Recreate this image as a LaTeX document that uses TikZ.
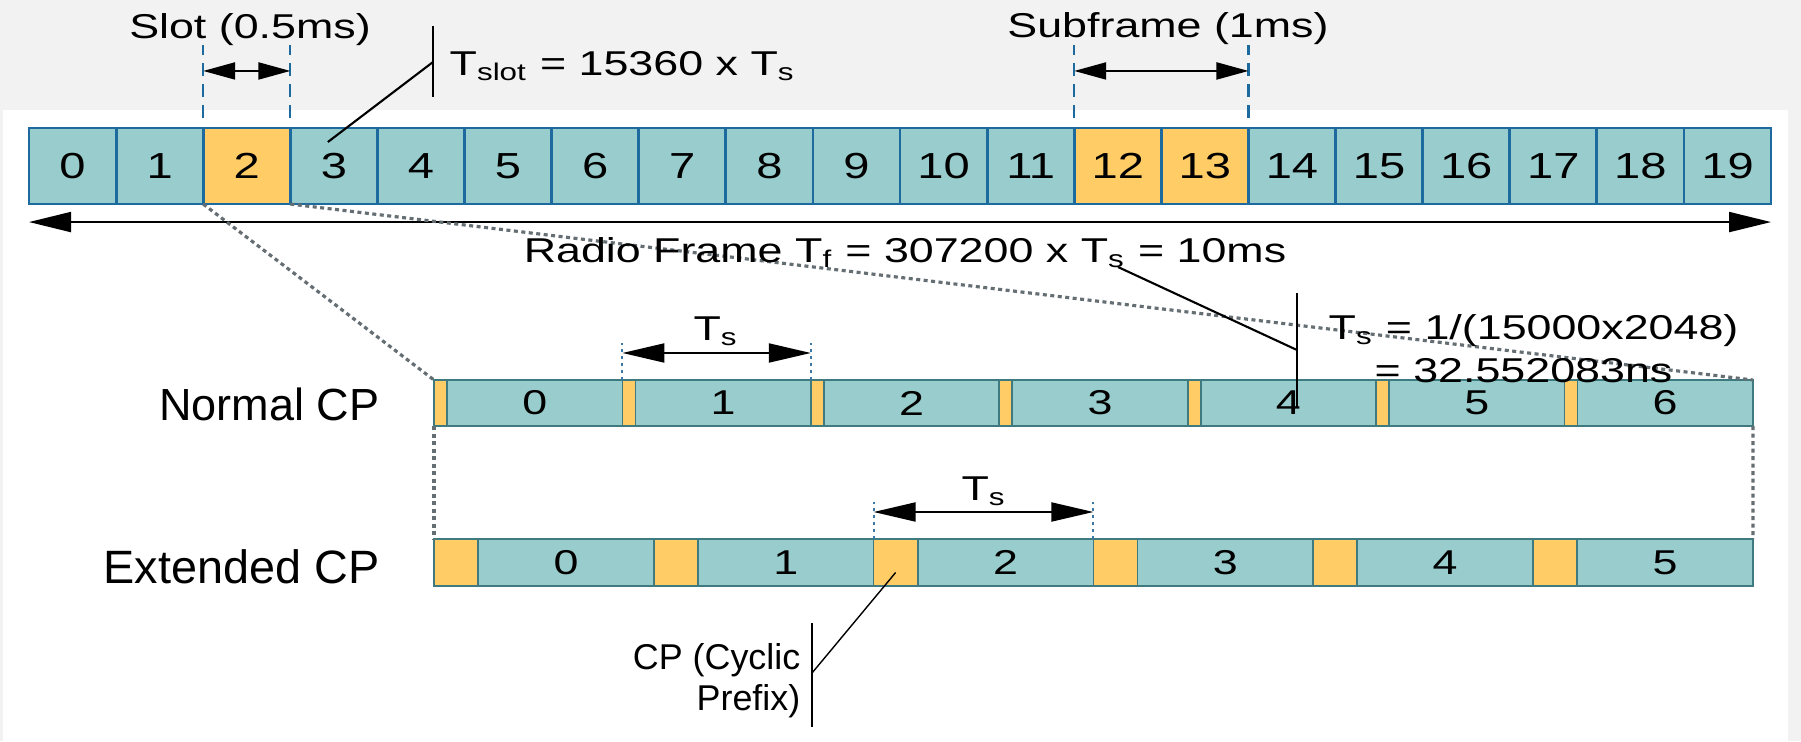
\documentclass[tikz,border=0pt]{standalone}
\usepackage{fontspec}
\setmainfont{Liberation Sans}[FakeStretch=1.3]
\newfontfamily\plainsans{Liberation Sans}
\usepackage{tikz}
\usetikzlibrary{arrows.meta,positioning}
\definecolor{frameblue}{RGB}{28,106,158}
\definecolor{slotteal}{RGB}{153,204,204}
\definecolor{cporange}{RGB}{255,204,102}
\definecolor{symedge}{RGB}{62,122,128}
\definecolor{bandgray}{RGB}{242,242,242}
\definecolor{zoomgray}{RGB}{100,110,115}
\definecolor{tickblue}{RGB}{60,120,165}

\begin{document}
\begin{tikzpicture}[x=0.01cm, y=-0.01cm, font=\fontsize{9.8}{11.8}\selectfont]
    \tikzstyle{slotbox} = [rectangle, draw=frameblue, line width=0.8pt, fill=slotteal, minimum width=0.871cm, minimum height=0.76cm, inner sep=0pt, outer sep=0pt, anchor=west, font=\fontsize{10.3}{12}\selectfont]
    \tikzstyle{ncp} = [rectangle, draw=symedge, line width=0.5pt, fill=cporange, minimum width=0.13cm, minimum height=0.46cm, inner sep=0pt, outer sep=0pt]
    \tikzstyle{nsym} = [ncp, fill=slotteal, minimum width=1.754cm]
    \tikzstyle{ecp} = [ncp, minimum width=0.44cm, minimum height=0.47cm]
    \tikzstyle{esym} = [ecp, fill=slotteal, minimum width=1.758cm]
    \tikzstyle{guide} = [draw=frameblue, line width=0.6pt, dash pattern=on 0.13cm off 0.08cm]
    \tikzstyle{tick} = [draw=tickblue, line width=0.6pt, dash pattern=on 0.03cm off 0.04cm]
    \tikzstyle{zoomline} = [draw=zoomgray, line width=0.9pt, dash pattern=on 0.04cm off 0.035cm]
    \tikzstyle{leader} = [draw=black, line width=0.6pt]
    \tikzstyle{slotarr} = [{Triangle[length=0.32cm,width=0.17cm]}-{Triangle[length=0.32cm,width=0.17cm]}, line width=0.6pt]
    \tikzstyle{framearr} = [{Triangle[length=0.42cm,width=0.2cm]}-{Triangle[length=0.42cm,width=0.2cm]}, line width=0.55pt]
    \tikzstyle{tsarr} = [{Triangle[length=0.42cm,width=0.19cm]}-{Triangle[length=0.42cm,width=0.19cm]}, line width=0.55pt]
    \tikzstyle{rowlabel} = [anchor=base east, inner sep=0pt, font=\plainsans\fontsize{12.8}{15}\selectfont]
    \tikzstyle{cplabel} = [anchor=base east, inner sep=0pt, font=\plainsans\fontsize{10.2}{12}\selectfont]

    % page and grey header band
    \useasboundingbox (0,0) rectangle (1801,741);
    \fill[bandgray] (0,0) rectangle (1801,741);
    \fill[white] (3,110) rectangle (1788,741);

    % radio frame, 20 slots
    \foreach \i in {0,...,19} {
        \def\fillc{slotteal}
        \ifnum\i=2 \def\fillc{cporange}\fi
        \ifnum\i=12 \def\fillc{cporange}\fi
        \ifnum\i=13 \def\fillc{cporange}\fi
        \node [slotbox, fill=\fillc] (slot_\i) at ({29+87.1*\i},166) {\i};
    }

    % normal CP: 7 symbols
    \foreach \i in {0,...,6} {
        \node [ncp, anchor=west] (ncp_\i) at ({434+188.4*\i},403) {};
        \node [nsym, right=0pt of ncp_\i] (nsym_\i) {\i};
    }

    % extended CP: 6 symbols
    \foreach \i in {0,...,5} {
        \node [ecp, anchor=west] (ecp_\i) at ({434+219.8*\i},562.5) {};
        \node [esym, right=0pt of ecp_\i] (esym_\i) {\i};
    }

    % slot / subframe markers
    \foreach \n/\c in {2/north west, 2/north east, 12/north west, 13/north east}
        \draw [guide] ([yshift=0.1cm]slot_\n.\c) -- ++(0,-73);
    \draw [slotarr] ([yshift=0.57cm]slot_2.north west) -- ([yshift=0.57cm]slot_2.north east);
    \draw [slotarr] ([yshift=0.57cm]slot_12.north west) -- ([yshift=0.57cm]slot_13.north east);
    \node [anchor=base] (slot_lbl) at (250,38) {Slot (0.5ms)};
    \node [anchor=base] (sub_lbl) at (1168,37) {Subframe (1ms)};

    % slot duration callout
    \coordinate (tslot_bar) at (433,62);
    \draw [leader] ([yshift=0.36cm]tslot_bar) -- ([yshift=-0.35cm]tslot_bar);
    \draw [leader] (tslot_bar) -- ([shift={(-0.06cm,0.24cm)}]slot_3.center);
    \node [anchor=base west, inner sep=0pt] (tslot_lbl) at (449,75) {T\textsubscript{slot} = 15360 x T\textsubscript{s}};

    % whole frame
    \draw [framearr] ([yshift=-0.18cm]slot_0.south west) -- ([yshift=-0.18cm]slot_19.south east);

    % zoom from slot 2 down to the symbols
    \draw [zoomline] (slot_2.south west) -- (ncp_0.north west);
    \draw [zoomline] (slot_2.south east) -- (nsym_6.north east);
    \draw [zoomline] (ncp_0.south west) -- (ecp_0.north west);
    \draw [zoomline] (nsym_6.south east) -- (esym_5.north east);

    \node [anchor=base] (frame_lbl) at (905,262) {Radio Frame T\textsubscript{f} = 307200 x T\textsubscript{s} = 10ms};

    % basic time unit callout
    \coordinate (ts_from) at (1118,267);
    \coordinate (ts_bar) at (1297,350);
    \draw [leader] (ts_from) -- (ts_bar);
    \draw [leader] ([yshift=0.57cm]ts_bar) -- ([yshift=-0.58cm]ts_bar);
    \node [anchor=base west, inner sep=0pt] (ts_def) at (1328,339) {T\textsubscript{s} = 1/(15000x2048)};
    \node [anchor=base west, inner sep=0pt] (ts_val) at (1374,382) {= 32.552083ns};

    % symbol length arrows
    \draw [tick] (ncp_1.north west) -- ++(0,-37);
    \draw [tick] (ncp_2.north west) -- ++(0,-37);
    \draw [tsarr] ([yshift=0.27cm]ncp_1.north west) -- ([yshift=0.27cm]ncp_2.north west);
    \node [anchor=base] (ts_normal) at (716,340) {T\textsubscript{s}};
    \draw [tick] (ecp_2.north west) -- ++(0,-37);
    \draw [tick] (ecp_3.north west) -- ++(0,-37);
    \draw [tsarr] ([yshift=0.27cm]ecp_2.north west) -- ([yshift=0.27cm]ecp_3.north west);
    \node [anchor=base] (ts_ext) at (984,500) {T\textsubscript{s}};

    % row names
    \node [rowlabel] (normal_lbl) at (380,420) {Normal CP};
    \node [rowlabel, font=\plainsans\fontsize{13.3}{15}\selectfont] (ext_lbl) at (380,583) {Extended CP};

    % cyclic prefix callout
    \coordinate (cp_bar) at (812,673);
    \draw [leader] ([yshift=0.5cm]cp_bar) -- ([yshift=-0.54cm]cp_bar);
    \draw [leader, line width=0.4pt] (cp_bar) -- ([yshift=-0.1cm]ecp_2.center);
    \node [cplabel] (cp_lbl) at (801,669) {CP (Cyclic};
    \node [cplabel] (cp_lbl2) at (801,710) {Prefix)};
\end{tikzpicture}
\end{document}
